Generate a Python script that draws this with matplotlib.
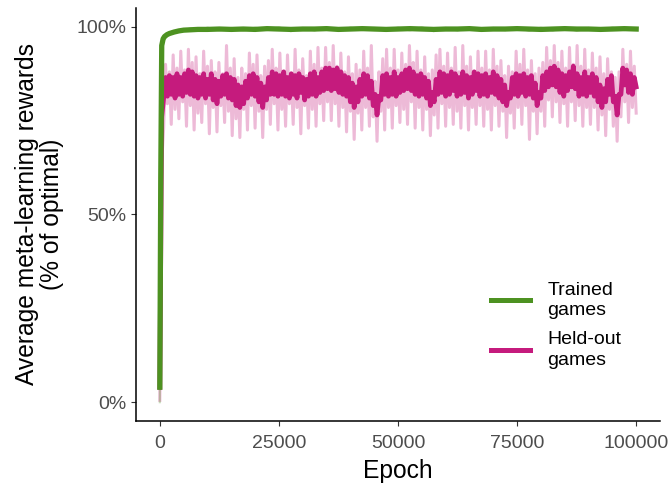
import numpy as np
import matplotlib
matplotlib.use("Agg")
import matplotlib.pyplot as plt

plt.rcParams['font.family'] = ['Liberation Sans', 'DejaVu Sans']

green = "#4D9221"
magenta = "#C51B7D"

# held-out games, sampled every 400 epochs
heldout_epoch = np.arange(0, 100001, 400)
heldout_smooth = [
    4.0, 76.0, 81.0, 86.5, 81.5, 87.0, 82.0, 86.5, 81.0, 87.5,
    82.0, 86.5, 81.5, 87.5, 82.5, 88.5, 82.0, 88.0, 81.5, 87.0,
    81.0, 86.5, 82.0, 87.5, 81.0, 86.0, 82.0, 87.5, 80.5, 86.0,
    79.5, 85.5, 81.5, 87.0, 82.0, 87.5, 81.0, 86.5, 80.5, 86.0,
    79.0, 84.5, 78.5, 84.0, 79.5, 85.5, 81.0, 87.0, 82.0, 87.5,
    81.5, 86.5, 80.0, 85.0, 78.5, 84.0, 80.5, 86.5, 82.0, 88.0,
    82.0, 87.5, 81.5, 87.0, 82.0, 88.0, 81.5, 86.5, 81.0, 87.5,
    82.0, 87.0, 81.0, 87.5, 82.5, 86.5, 80.5, 86.0, 81.5, 87.5,
    82.0, 88.0, 81.5, 86.5, 82.5, 88.0, 83.0, 89.0, 83.5, 89.0,
    83.0, 88.5, 83.5, 89.0, 82.5, 88.0, 82.0, 87.0, 81.5, 86.5,
    80.0, 85.0, 78.5, 84.0, 80.0, 86.0, 81.5, 87.5, 82.0, 87.0,
    81.0, 85.5, 79.0, 82.0, 76.5, 81.5, 80.5, 87.0, 82.0, 87.5,
    81.5, 86.5, 82.0, 88.0, 81.5, 86.5, 82.5, 87.5, 83.0, 88.5,
    83.5, 89.0, 83.0, 88.0, 82.0, 87.0, 81.5, 87.5, 82.0, 86.5,
    81.0, 85.5, 79.0, 82.5, 80.0, 86.0, 82.0, 88.0, 82.5, 87.5,
    81.5, 87.0, 82.0, 88.0, 83.0, 87.5, 81.5, 86.5, 82.0, 88.0,
    82.5, 87.0, 81.0, 86.5, 82.0, 88.0, 83.0, 87.5, 81.5, 87.0,
    82.0, 87.5, 81.5, 86.5, 82.5, 88.0, 82.0, 87.0, 81.0, 86.0,
    80.0, 84.5, 79.0, 82.5, 81.0, 86.5, 82.0, 87.5, 81.5, 87.0,
    82.5, 87.5, 81.5, 86.5, 82.0, 87.0, 81.0, 85.0, 79.0, 82.5,
    81.0, 87.0, 83.0, 88.0, 84.0, 89.0, 84.5, 89.5, 84.0, 88.5,
    82.5, 87.5, 81.5, 87.0, 83.0, 88.0, 84.0, 89.5, 83.5, 87.5,
    81.5, 86.5, 82.0, 88.0, 81.5, 86.5, 82.5, 87.5, 81.5, 86.5,
    80.0, 84.5, 78.5, 83.5, 80.0, 86.0, 82.0, 87.0, 80.0, 81.5,
    76.5, 82.0, 82.0, 89.0, 84.5, 88.5, 82.5, 87.5, 82.0, 86.5,
    84.0,
]
heldout_raw = [
    0.5, 64.0, 73.0, 90.0, 79.5, 88.0, 74.0, 92.5, 78.0, 89.0,
    75.5, 93.5, 80.0, 88.5, 73.5, 94.0, 79.0, 90.5, 72.5, 92.0,
    77.0, 87.5, 74.5, 93.5, 79.5, 89.5, 71.5, 91.0, 78.5, 88.0,
    72.0, 90.5, 79.0, 87.5, 74.5, 95.0, 77.5, 89.0, 71.0, 91.5,
    75.5, 86.5, 70.5, 89.0, 78.0, 87.5, 72.5, 93.0, 79.0, 90.0,
    73.0, 92.5, 77.5, 87.0, 70.5, 89.5, 78.0, 91.0, 74.0, 94.0,
    79.5, 89.0, 72.5, 93.0, 78.0, 88.0, 73.5, 92.5, 79.5, 87.5,
    74.0, 94.0, 78.5, 88.5, 71.5, 91.5, 79.0, 87.0, 73.0, 93.5,
    78.0, 90.0, 73.5, 94.5, 79.5, 89.0, 75.0, 94.5, 80.0, 90.5,
    75.0, 95.0, 79.5, 89.5, 73.5, 93.0, 78.5, 88.0, 72.0, 92.0,
    77.5, 87.5, 70.0, 90.0, 77.0, 88.5, 72.5, 93.5, 78.5, 89.0,
    73.5, 95.0, 76.0, 85.5, 69.5, 88.0, 77.5, 91.5, 72.5, 94.0,
    78.5, 89.0, 73.0, 94.0, 79.0, 88.5, 74.5, 93.0, 78.0, 90.0,
    74.0, 95.0, 80.0, 90.5, 73.0, 93.5, 78.5, 88.5, 72.5, 92.0,
    78.0, 87.5, 71.0, 88.5, 76.5, 92.5, 73.0, 94.0, 79.5, 89.5,
    73.5, 93.0, 78.5, 89.0, 74.0, 94.5, 77.5, 88.0, 73.0, 95.0,
    79.0, 89.5, 72.5, 92.0, 78.5, 88.0, 74.0, 93.5, 79.0, 89.0,
    73.5, 93.5, 78.0, 88.5, 72.5, 94.0, 79.0, 89.5, 73.5, 91.0,
    77.5, 87.0, 70.5, 89.5, 77.0, 88.0, 73.0, 93.5, 78.5, 90.0,
    74.0, 94.0, 79.0, 88.5, 70.0, 91.0, 77.5, 87.5, 71.5, 89.0,
    77.5, 90.5, 73.5, 94.5, 80.5, 91.0, 76.0, 95.0, 80.0, 90.5,
    74.5, 93.5, 79.5, 89.0, 73.5, 94.5, 80.0, 90.0, 75.0, 95.0,
    79.0, 89.5, 73.5, 94.0, 78.5, 88.5, 74.0, 93.0, 78.5, 89.0,
    72.5, 92.0, 76.5, 87.5, 71.0, 91.5, 78.0, 88.0, 73.5, 86.5,
    69.5, 88.0, 76.0, 94.0, 80.0, 90.0, 74.5, 93.5, 78.5, 89.5,
    77.0,
]

# trained games
trained_epoch = [0, 200, 400, 700, 1000, 1500, 2000, 3000, 4000, 5000,
                 6500, 8000, 10000, 12500, 15000, 17500, 20000, 22500,
                 25000, 27500, 30000, 32500, 35000, 37500, 40000, 42500,
                 45000, 47500, 50000, 52500, 55000, 57500, 60000, 62500,
                 65000, 67500, 70000, 72500, 75000, 77500, 80000, 82500,
                 85000, 87500, 90000, 92500, 95000, 97500, 100000]
trained_smooth = [4.0, 60.0, 95.0, 96.8, 97.4, 97.9, 98.2, 98.6, 98.9, 99.1,
                  99.2, 99.3, 99.3, 99.4, 99.3, 99.4, 99.3, 99.5, 99.4, 99.3,
                  99.4, 99.4, 99.5, 99.3, 99.4, 99.5, 99.4, 99.3, 99.4, 99.5,
                  99.4, 99.3, 99.4, 99.4, 99.5, 99.3, 99.4, 99.4, 99.5, 99.4,
                  99.3, 99.4, 99.5, 99.4, 99.4, 99.3, 99.4, 99.5, 99.4]
trained_raw = [0.0, 55.0, 94.0, 96.0, 97.0, 97.5, 98.0, 98.4, 98.7, 99.0,
               99.6, 98.9, 99.8, 99.0, 99.7, 98.9, 99.8, 99.1, 99.9, 98.8,
               99.7, 99.0, 99.9, 98.9, 99.8, 99.1, 99.7, 98.9, 99.8, 99.0,
               99.9, 98.8, 99.7, 99.0, 99.8, 98.9, 99.7, 99.1, 99.9, 98.9,
               99.8, 99.0, 99.9, 98.9, 99.7, 99.0, 99.8, 99.1, 99.5]

fig = plt.figure(figsize=(6.72, 4.91), dpi=100)
ax = fig.add_axes([136 / 672, 1 - 421 / 491, 524 / 672, 413 / 491])

# raw values underneath, smoothed curves on top
ax.plot(heldout_epoch, heldout_raw, color=magenta, alpha=0.3, linewidth=2.2, zorder=1)
ax.plot(trained_epoch, trained_raw, color=green, alpha=0.3, linewidth=1.5, zorder=1)
ax.plot(heldout_epoch, heldout_smooth, color=magenta, linewidth=3.4, zorder=2,
        label="Held-out\ngames", solid_joinstyle='round')
ax.plot(trained_epoch, trained_smooth, color=green, linewidth=3.8, zorder=3,
        label="Trained\ngames", solid_joinstyle='round')

ax.set_xlim(-5000, 105000)
ax.set_ylim(-5, 105)
ax.set_xticks([0, 25000, 50000, 75000, 100000])
ax.set_xticklabels(["0", "25000", "50000", "75000", "100000"])
ax.set_yticks([0, 50, 100])
ax.set_yticklabels(["0%", "50%", "100%"])

for s in ["top", "right"]:
    ax.spines[s].set_visible(False)
for s in ["left", "bottom"]:
    ax.spines[s].set_linewidth(1.1)
    ax.spines[s].set_color("black")
ax.tick_params(axis="both", direction="out", length=3.3, width=0.8, color="#333333",
               labelcolor="#4D4D4D", labelsize=14)
ax.tick_params(axis="x", pad=6.5)
ax.tick_params(axis="y", pad=3.5)

ax.set_xlabel("Epoch", fontsize=17.7, labelpad=5)
ax.set_ylabel("Average meta-learning rewards\n(% of optimal)", fontsize=17.7, linespacing=1.05)
ax.yaxis.set_label_coords(-0.137, 0.5)

handles, labels = ax.get_legend_handles_labels()
leg = ax.legend(handles[::-1], labels[::-1], loc="center left",
                bbox_to_anchor=(0.677, 0.232), frameon=False, fontsize=14,
                handlelength=2.0, handletextpad=0.92, labelspacing=0.64,
                borderpad=0, borderaxespad=0)
for line in leg.get_lines():
    line.set_linewidth(3.6)
for t in leg.get_texts():
    t.set_linespacing(1.25)

fig.savefig("out.png", dpi=100)
